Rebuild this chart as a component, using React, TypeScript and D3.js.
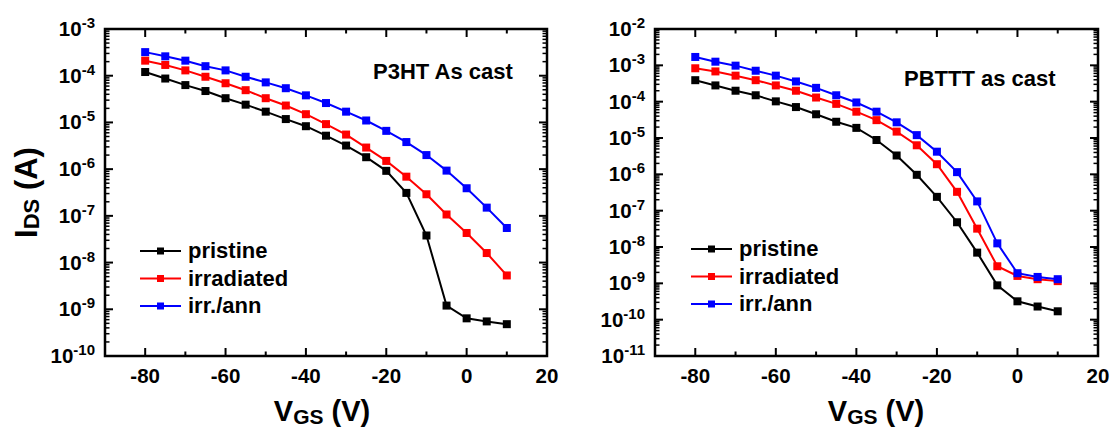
import React from "react";
import * as d3 from "d3";

const vgs = [-80, -75, -70, -65, -60, -55, -50, -45, -40, -35, -30, -25, -20, -15, -10, -5, 0, 5, 10];

const p3htPristine = [1.2e-4, 8.7e-5, 6.3e-5, 4.7e-5, 3.3e-5, 2.4e-5, 1.7e-5, 1.18e-5, 8.3e-6, 5.2e-6, 3.2e-6, 1.8e-6, 9.2e-7, 3.1e-7, 3.8e-8, 1.2e-9, 6.4e-10, 5.5e-10, 4.8e-10];
const p3htIrradiated = [2.1e-4, 1.7e-4, 1.3e-4, 9.5e-5, 6.9e-5, 4.9e-5, 3.3e-5, 2.3e-5, 1.5e-5, 9.2e-6, 5.5e-6, 2.9e-6, 1.5e-6, 6.9e-7, 2.9e-7, 1.07e-7, 4.3e-8, 1.6e-8, 5.3e-9];
const p3htIrrAnn = [3.2e-4, 2.6e-4, 2.1e-4, 1.6e-4, 1.3e-4, 9.5e-5, 7.2e-5, 5.4e-5, 3.8e-5, 2.6e-5, 1.7e-5, 1.1e-5, 6.6e-6, 3.8e-6, 2.0e-6, 9.3e-7, 3.9e-7, 1.5e-7, 5.5e-8];

const pbtttPristine = [3.9e-4, 2.8e-4, 2.0e-4, 1.5e-4, 1.02e-4, 7.1e-5, 4.5e-5, 2.8e-5, 1.9e-5, 8.8e-6, 3.3e-6, 9.7e-7, 2.4e-7, 4.8e-8, 7.0e-9, 8.8e-10, 3.2e-10, 2.3e-10, 1.7e-10];
const pbtttIrradiated = [8.3e-4, 6.8e-4, 5.2e-4, 3.9e-4, 2.8e-4, 2.0e-4, 1.3e-4, 8.7e-5, 5.3e-5, 3.1e-5, 1.5e-5, 6.3e-6, 1.9e-6, 3.3e-7, 3.2e-8, 2.95e-9, 1.6e-9, 1.3e-9, 1.15e-9];
const pbtttIrrAnn = [1.7e-3, 1.26e-3, 9.8e-4, 7.1e-4, 5.2e-4, 3.6e-4, 2.4e-4, 1.5e-4, 9.5e-5, 5.3e-5, 2.7e-5, 1.2e-5, 4.2e-6, 1.15e-6, 1.8e-7, 1.26e-8, 1.9e-9, 1.5e-9, 1.3e-9];

const seriesNames = ["pristine", "irradiated", "irr./ann"];
const seriesColors = ["#000000", "#ff0000", "#0000ff"];

const xMajorTicks = [-80, -60, -40, -20, 0, 20];
const xMinorTicks = [-70, -50, -30, -10, 10];

const FONT = "'Liberation Sans', Arial, Helvetica, sans-serif";

type PanelProps = {
  left: number;
  right: number;
  top: number;
  bottom: number;
  expLo: number;
  expHi: number;
  series: number[][];
  title: string;
  titleX: number;
  titleY: number;
  legendX: number;
  legendY: number;
  xTitleX: number;
  showYTitle: boolean;
};

function Panel(p: PanelProps) {
  const x = d3.scaleLinear().domain([-90, 20]).range([p.left, p.right]);
  const y = d3.scaleLog().domain([Math.pow(10, p.expLo), Math.pow(10, p.expHi)]).range([p.bottom, p.top]);
  const line = d3
    .line<[number, number]>()
    .x((d) => x(d[0]))
    .y((d) => y(d[1]));

  const majorY: number[] = [];
  const minorY: number[] = [];
  for (let e = p.expLo; e <= p.expHi; e++) {
    majorY.push(e);
    if (e < p.expHi) for (let k = 2; k <= 9; k++) minorY.push(k * Math.pow(10, e));
  }

  const MAJ = 8;
  const MIN = 4.5;
  const tickStroke = 2;

  return (
    <g>
      {/* y ticks */}
      {majorY.map((e) => {
        const yy = y(Math.pow(10, e));
        return (
          <g key={"ym" + e}>
            <line x1={p.left} x2={p.left + MAJ} y1={yy} y2={yy} stroke="#000" strokeWidth={tickStroke} />
            <line x1={p.right} x2={p.right - MAJ} y1={yy} y2={yy} stroke="#000" strokeWidth={tickStroke} />
            <text x={p.left - 10} y={yy + 7} textAnchor="end" fontFamily={FONT} fontWeight="bold" fontSize={20.5} fill="#000">
              <tspan>10</tspan>
              <tspan fontSize={15} dy={-8}>{String(e)}</tspan>
            </text>
          </g>
        );
      })}
      {minorY.map((v, i) => {
        const yy = y(v);
        return (
          <g key={"yn" + i}>
            <line x1={p.left} x2={p.left + MIN} y1={yy} y2={yy} stroke="#000" strokeWidth={1.5} />
            <line x1={p.right} x2={p.right - MIN} y1={yy} y2={yy} stroke="#000" strokeWidth={1.5} />
          </g>
        );
      })}
      {/* x ticks */}
      {xMajorTicks.map((v) => {
        const xx = x(v);
        return (
          <g key={"xm" + v}>
            <line x1={xx} x2={xx} y1={p.bottom} y2={p.bottom - MAJ} stroke="#000" strokeWidth={tickStroke} />
            <line x1={xx} x2={xx} y1={p.top} y2={p.top + MAJ} stroke="#000" strokeWidth={tickStroke} />
            <text x={xx} y={p.bottom + 27} textAnchor="middle" fontFamily={FONT} fontWeight="bold" fontSize={20.5} fill="#000">
              {String(v)}
            </text>
          </g>
        );
      })}
      {xMinorTicks.map((v) => {
        const xx = x(v);
        return (
          <g key={"xn" + v}>
            <line x1={xx} x2={xx} y1={p.bottom} y2={p.bottom - MIN} stroke="#000" strokeWidth={tickStroke} />
            <line x1={xx} x2={xx} y1={p.top} y2={p.top + MIN} stroke="#000" strokeWidth={tickStroke} />
          </g>
        );
      })}
      {/* frame */}
      <rect x={p.left} y={p.top} width={p.right - p.left} height={p.bottom - p.top} fill="none" stroke="#000" strokeWidth={2.5} />
      {/* series */}
      {p.series.map((vals, si) => {
        const pts: [number, number][] = vgs.map((v, i) => [v, vals[i]]);
        return (
          <g key={"s" + si}>
            <path d={line(pts) || ""} fill="none" stroke={seriesColors[si]} strokeWidth={2} />
            {pts.map((d, i) => (
              <rect key={i} x={x(d[0]) - 4} y={y(d[1]) - 4} width={8} height={8} fill={seriesColors[si]} />
            ))}
          </g>
        );
      })}
      {/* legend */}
      {seriesNames.map((name, i) => {
        const ly = p.legendY + i * 27.5;
        return (
          <g key={"l" + i}>
            <line x1={p.legendX} x2={p.legendX + 41} y1={ly} y2={ly} stroke={seriesColors[i]} strokeWidth={2} />
            <rect x={p.legendX + 20.5 - 3.5} y={ly - 3.5} width={7} height={7} fill={seriesColors[i]} />
            <text x={p.legendX + 48} y={ly + 7} fontFamily={FONT} fontWeight="bold" fontSize={22} fill="#000">
              {name}
            </text>
          </g>
        );
      })}
      {/* annotation */}
      <text x={p.titleX} y={p.titleY} fontFamily={FONT} fontWeight="bold" fontSize={22} fill="#000">
        {p.title}
      </text>
      {/* x axis title */}
      <text x={p.xTitleX} y={421} textAnchor="middle" fontFamily={FONT} fontWeight="bold" fontSize={29} fill="#000">
        <tspan>V</tspan>
        <tspan fontSize={21} dy={3}>GS</tspan>
        <tspan dy={-3}> (V)</tspan>
      </text>
      {p.showYTitle && (
        <text
          transform={`translate(37, ${(p.top + p.bottom) / 2}) rotate(-90)`}
          textAnchor="middle"
          fontFamily={FONT}
          fontWeight="bold"
          fontSize={31}
          fill="#000"
        >
          <tspan>I</tspan>
          <tspan fontSize={22} dy={2}>DS</tspan>
          <tspan dy={-2}> (A)</tspan>
        </text>
      )}
    </g>
  );
}

export default function App() {
  return (
    <svg width={1112} height={428} style={{ position: "absolute", left: 0, top: 0, background: "#fff" }}>
      <rect x={0} y={0} width={1112} height={428} fill="#fff" />
      <Panel
        left={105}
        right={547}
        top={29}
        bottom={356}
        expLo={-10}
        expHi={-3}
        series={[p3htPristine, p3htIrradiated, p3htIrrAnn]}
        title="P3HT As cast"
        titleX={373}
        titleY={79}
        legendX={140}
        legendY={251}
        xTitleX={322}
        showYTitle={true}
      />
      <Panel
        left={655}
        right={1098}
        top={29}
        bottom={356}
        expLo={-11}
        expHi={-2}
        series={[pbtttPristine, pbtttIrradiated, pbtttIrrAnn]}
        title="PBTTT as cast"
        titleX={904}
        titleY={86}
        legendX={691}
        legendY={249}
        xTitleX={876}
        showYTitle={false}
      />
    </svg>
  );
}
